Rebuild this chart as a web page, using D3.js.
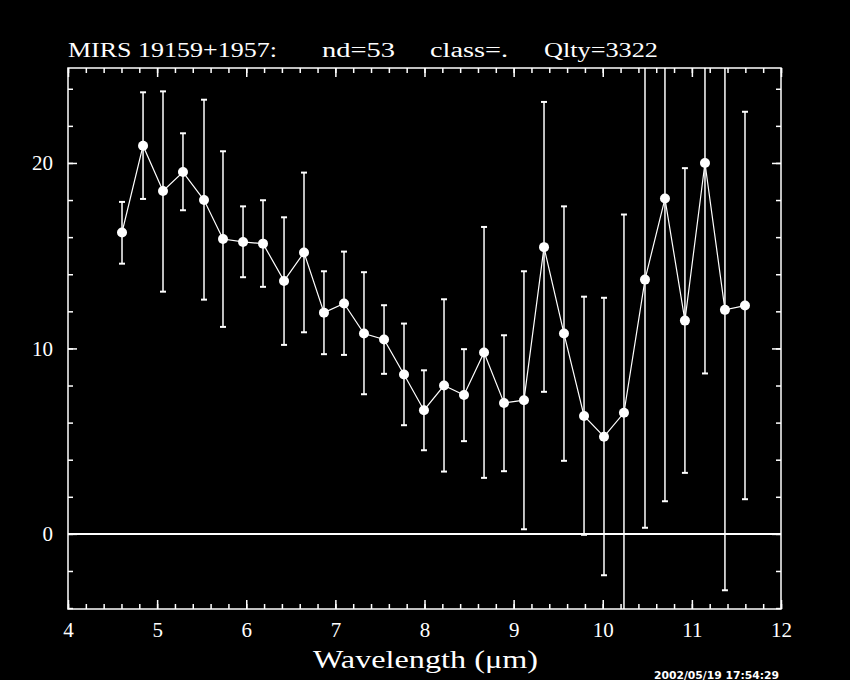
<!DOCTYPE html>
<html><head><meta charset="utf-8">
<script src="https://cdn.jsdelivr.net/npm/d3@7/dist/d3.min.js"></script>
<style>html,body{margin:0;padding:0;background:#000;}svg{display:block;}</style>
</head><body>
<script>
// Data
const wavelength = [4.606,4.842,5.066,5.290,5.526,5.739,5.964,6.188,6.424,6.648,6.872,7.097,7.321,7.546,7.770,7.994,8.219,8.443,8.668,8.892,9.116,9.341,9.565,9.790,10.014,10.238,10.474,10.698,10.922,11.147,11.371,11.596];
const flux =       [16.25,20.93,18.49,19.51,18.00,15.90,15.74,15.65,13.64,15.17,11.93,12.42,10.80,10.48,8.59,6.67,8.00,7.49,9.78,7.06,7.21,15.46,10.80,6.36,5.24,6.53,13.71,18.08,11.50,20.00,12.08,12.31];
const errHigh =    [17.90,23.81,23.86,21.60,23.41,20.63,17.66,17.99,17.07,19.48,14.16,15.22,14.11,12.33,11.34,8.82,12.65,9.96,16.55,10.71,14.16,23.29,17.66,12.79,12.73,17.22,27.10,28.50,19.72,31.00,27.80,22.76];
const errLow =     [14.57,18.06,13.06,17.45,12.63,11.16,13.84,13.32,10.19,10.87,9.69,9.65,7.53,8.63,5.86,4.51,3.36,5.00,3.02,3.38,0.25,7.66,3.94,-0.05,-2.23,-4.20,0.33,1.76,3.29,8.65,-3.04,1.87];
const xMajorTicks = [4,5,6,7,8,9,10,11,12];
const yMajorTicks = [0,10,20];
const titleParts = ["MIRS 19159+1957:", "nd=53", "class=.", "Qlty=3322"];
const xLabel = "Wavelength (\u03bcm)";
const stamp = "2002/05/19 17:54:29";

const W = 850, H = 680;
const svg = d3.select("body").append("svg").attr("width", W).attr("height", H)
  .style("background", "#000");
const pL = 68, pR = 781, pT = 68, pB = 609;
const x = d3.scaleLinear().domain([4, 12]).range([pL, pR]);
const y = d3.scaleLinear().domain([-4.05, 25.12]).range([pB, pT]);
const font = "'Liberation Serif', 'DejaVu Serif', serif";

svg.append("defs").append("clipPath").attr("id", "clip")
  .append("rect").attr("x", pL).attr("y", pT).attr("width", pR - pL).attr("height", pB - pT);

const xMinor = d3.range(0, 41).map(i => 4 + i * 0.2);
const yMinor = d3.range(0, 15).map(i => -4 + i * 2);

function styleAxis(g) {
  g.select(".domain").remove();
  g.selectAll("line").attr("stroke", "#fff").attr("stroke-width", 1.5);
  g.selectAll("text").attr("fill", "#fff").style("font-family", font).style("font-size", "21px");
}
// bottom
svg.append("g").attr("transform", `translate(0,${pB})`)
  .call(d3.axisBottom(x).tickValues(xMinor).tickSize(-5).tickFormat("")).call(styleAxis);
svg.append("g").attr("transform", `translate(0,${pB})`)
  .call(d3.axisBottom(x).tickValues(xMajorTicks).tickSize(-9).tickPadding(13).tickFormat(d3.format("d"))).call(styleAxis);
// top
svg.append("g").attr("transform", `translate(0,${pT})`)
  .call(d3.axisTop(x).tickValues(xMinor).tickSize(-5).tickFormat("")).call(styleAxis);
svg.append("g").attr("transform", `translate(0,${pT})`)
  .call(d3.axisTop(x).tickValues(xMajorTicks).tickSize(-9).tickFormat("")).call(styleAxis);
// left
svg.append("g").attr("transform", `translate(${pL},0)`)
  .call(d3.axisLeft(y).tickValues(yMinor).tickSize(-5).tickFormat("")).call(styleAxis);
svg.append("g").attr("transform", `translate(${pL},0)`)
  .call(d3.axisLeft(y).tickValues(yMajorTicks).tickSize(-9).tickPadding(15).tickFormat(d3.format("d"))).call(styleAxis);
// right
svg.append("g").attr("transform", `translate(${pR},0)`)
  .call(d3.axisRight(y).tickValues(yMinor).tickSize(-5).tickFormat("")).call(styleAxis);
svg.append("g").attr("transform", `translate(${pR},0)`)
  .call(d3.axisRight(y).tickValues(yMajorTicks).tickSize(-9).tickFormat("")).call(styleAxis);

// frame
svg.append("rect").attr("x", pL).attr("y", pT).attr("width", pR - pL).attr("height", pB - pT)
  .attr("fill", "none").attr("stroke", "#fff").attr("stroke-width", 1.5);

// zero line
svg.append("line").attr("x1", pL).attr("x2", pR).attr("y1", y(0)).attr("y2", y(0))
  .attr("stroke", "#fff").attr("stroke-width", 2);

const data = wavelength.map((w, i) => ({w, f: flux[i], hi: errHigh[i], lo: errLow[i]}));
const plot = svg.append("g").attr("clip-path", "url(#clip)");

// error bars
const eb = plot.selectAll(".eb").data(data).enter().append("g");
eb.append("line").attr("x1", d => x(d.w)).attr("x2", d => x(d.w))
  .attr("y1", d => y(d.hi)).attr("y2", d => y(d.lo)).attr("stroke", "#fff").attr("stroke-width", 1.5);
eb.append("line").attr("x1", d => x(d.w) - 3).attr("x2", d => x(d.w) + 3)
  .attr("y1", d => y(d.hi)).attr("y2", d => y(d.hi)).attr("stroke", "#fff").attr("stroke-width", 2);
eb.append("line").attr("x1", d => x(d.w) - 3).attr("x2", d => x(d.w) + 3)
  .attr("y1", d => y(d.lo)).attr("y2", d => y(d.lo)).attr("stroke", "#fff").attr("stroke-width", 2);

// connecting line
plot.append("path").datum(data)
  .attr("d", d3.line().x(d => x(d.w)).y(d => y(d.f)))
  .attr("fill", "none").attr("stroke", "#fff").attr("stroke-width", 1.2);

// points
plot.selectAll(".pt").data(data).enter().append("circle")
  .attr("cx", d => x(d.w)).attr("cy", d => y(d.f)).attr("r", 5).attr("fill", "#fff");

// title
const tx = [68, 322, 430, 544];
const tw = [209, 73, 78, 114];
svg.selectAll(".title").data(titleParts).enter().append("text")
  .attr("x", (d, i) => tx[i]).attr("y", 57)
  .attr("textLength", (d, i) => tw[i]).attr("lengthAdjust", "spacingAndGlyphs")
  .attr("fill", "#fff").style("font-family", font).style("font-size", "20px")
  .text(d => d);

// x label
svg.append("text").attr("x", 313).attr("y", 668)
  .attr("textLength", 225).attr("lengthAdjust", "spacingAndGlyphs")
  .attr("fill", "#fff").style("font-family", font).style("font-size", "26px").text(xLabel);

// timestamp
svg.append("text").attr("x", 654).attr("y", 679)
  .attr("textLength", 125).attr("lengthAdjust", "spacingAndGlyphs")
  .attr("fill", "#fff").style("font-family", "'DejaVu Sans', sans-serif").style("font-size", "10px")
  .style("font-weight", "bold").text(stamp);
</script>
</body></html>
